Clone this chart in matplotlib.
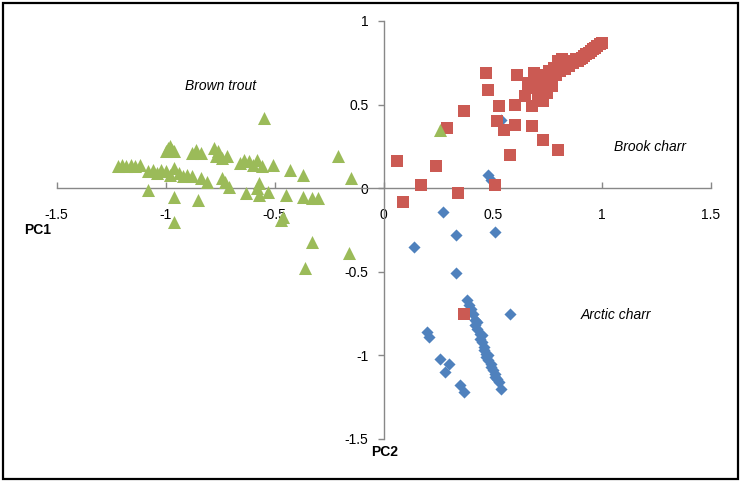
import numpy as np
import matplotlib
matplotlib.use('Agg')
from matplotlib import pyplot as plt
from matplotlib.patches import Rectangle

# Brown trout (green triangles)
brown_x = [-0.55, -1.00, -0.99, -0.98, -0.97, -0.96, -0.88, -0.86, -0.84,
           -0.78, -0.76, -0.77, -0.74, -0.72,
           -1.22, -1.20, -1.18, -1.16, -1.14, -1.12,
           -1.08, -1.06, -1.04, -1.02, -1.00, -0.98, -0.96, -0.94, -0.92, -0.90, -0.88,
           -0.66, -0.64, -0.62, -0.60, -0.58, -0.56,
           -0.51, -0.43, -0.37, -0.21, -0.15,
           -0.84, -0.81, -0.73, -0.71, -0.74, -0.57, -0.58,
           -1.08, -0.96, -0.85,
           -0.63, -0.57, -0.53, -0.45, -0.37, -0.33, -0.30,
           -0.96, -0.47, -0.46, -0.33, -0.16, -0.36, 0.26]
brown_y = [0.42, 0.22, 0.24, 0.25, 0.23, 0.22, 0.21, 0.23, 0.21,
           0.24, 0.22, 0.19, 0.18, 0.19,
           0.13, 0.14, 0.13, 0.14, 0.13, 0.14,
           0.10, 0.11, 0.09, 0.11, 0.10, 0.08, 0.12, 0.09, 0.07, 0.08, 0.07,
           0.15, 0.17, 0.16, 0.14, 0.17, 0.13,
           0.14, 0.11, 0.08, 0.19, 0.06,
           0.06, 0.04, 0.04, 0.01, 0.06, 0.03, 0.00,
           -0.01, -0.05, -0.07,
           -0.03, -0.04, -0.02, -0.04, -0.05, -0.06, -0.06,
           -0.20, -0.19, -0.17, -0.32, -0.39, -0.48, 0.35]

# Brook charr (red squares)
brook_x = [0.47, 0.61, 0.69, 0.48, 0.66, 0.37, 0.53, 0.60, 0.65, 0.68,
           0.73, 0.52, 0.55, 0.60, 0.68, 0.73, 0.80, 0.58, 0.29, 0.06,
           0.24, 0.17, 0.09, 0.34, 0.51, 0.37,
           0.80, 0.82, 0.84, 0.86, 0.88, 0.90, 0.92, 0.94, 0.96, 0.98, 1.00,
           0.99, 0.97, 0.95, 0.93, 0.91, 0.89, 0.87, 0.85, 0.83, 0.81, 0.79,
           0.77, 0.75, 0.73, 0.78, 0.80, 0.82, 0.76, 0.74, 0.72, 0.70, 0.68,
           0.71, 0.74, 0.77, 0.65, 0.66, 0.73, 0.70, 0.75]
brook_y = [0.69, 0.68, 0.69, 0.59, 0.63, 0.46, 0.49, 0.50, 0.55, 0.49,
           0.59, 0.40, 0.35, 0.38, 0.37, 0.29, 0.23, 0.20, 0.36, 0.16,
           0.13, 0.02, -0.08, -0.03, 0.02, -0.75,
           0.76, 0.77, 0.76, 0.76, 0.77, 0.77, 0.79, 0.81, 0.83, 0.85, 0.87,
           0.86, 0.84, 0.82, 0.80, 0.78, 0.76, 0.75, 0.73, 0.71, 0.70, 0.68,
           0.66, 0.64, 0.62, 0.72, 0.73, 0.74, 0.70, 0.68, 0.65, 0.60, 0.62,
           0.55, 0.58, 0.61, 0.55, 0.60, 0.52, 0.65, 0.57]

# Arctic charr (blue diamonds)
arctic_x = [0.48, 0.49, 0.54, 0.27, 0.51, 0.33, 0.14, 0.33, 0.58,
            0.20, 0.21, 0.26, 0.30, 0.28, 0.35, 0.37,
            0.38, 0.39, 0.40, 0.41, 0.42, 0.42, 0.43, 0.44, 0.44, 0.45, 0.46,
            0.46, 0.47, 0.47, 0.48, 0.49, 0.49, 0.50, 0.51, 0.51, 0.52, 0.53,
            0.54, 0.43, 0.45, 0.48]
arctic_y = [0.08, 0.05, 0.41, -0.14, -0.26, -0.28, -0.35, -0.51, -0.75,
            -0.86, -0.89, -1.02, -1.05, -1.10, -1.18, -1.22,
            -0.67, -0.70, -0.72, -0.75, -0.79, -0.82, -0.84, -0.87, -0.90, -0.92, -0.95,
            -0.97, -0.99, -1.01, -1.03, -1.05, -1.07, -1.09, -1.11, -1.13, -1.14, -1.16,
            -1.20, -0.80, -0.88, -1.00]

x_ticks = [-1.5, -1, -0.5, 0, 0.5, 1, 1.5]
y_ticks = [-1.5, -1, -0.5, 0, 0.5, 1]

plt.rcParams['font.family'] = ['Liberation Sans', 'DejaVu Sans']

fig = plt.figure(figsize=(7.42, 4.82), dpi=100)
fig.patches.append(Rectangle((3 / 742, 3 / 482), 735 / 742, 476 / 482,
                             transform=fig.transFigure, fill=False,
                             edgecolor='black', linewidth=1.6))
ax = fig.add_axes([56.7 / 742, 43 / 482, 654 / 742, 418 / 482])

ax.scatter(arctic_x, arctic_y, marker='D', s=38, color='#4F81BD', linewidths=0, zorder=3)
ax.scatter(brook_x, brook_y, marker='s', s=76, color='#CB5A53', linewidths=0, zorder=4)
ax.scatter(brown_x, brown_y, marker='^', s=88, color='#9BBB59', linewidths=0, zorder=5)

ax.set_xlim(-1.5, 1.5)
ax.set_ylim(-1.5, 1)
ax.spines['left'].set_position(('data', 0))
ax.spines['bottom'].set_position(('data', 0))
ax.spines['top'].set_visible(False)
ax.spines['right'].set_visible(False)
for sp in ['left', 'bottom']:
    ax.spines[sp].set_color('#888888')
    ax.spines[sp].set_linewidth(1.0)

ax.set_xticks(x_ticks)
ax.set_xticklabels(['-1.5', '-1', '-0.5', '0', '0.5', '1', '1.5'])
ax.set_yticks(y_ticks)
ax.set_yticklabels(['-1.5', '-1', '-0.5', '0', '0.5', '1'])
ax.tick_params(axis='x', direction='in', length=4, width=1, color='#888888',
               pad=14, labelsize=10)
ax.tick_params(axis='y', direction='out', length=4, width=1, color='#888888',
               pad=7, labelsize=10)

ax.text(-0.75, 0.61, 'Brown trout', style='italic', fontsize=10, ha='center', va='center')
ax.text(1.22, 0.245, 'Brook charr', style='italic', fontsize=10, ha='center', va='center')
ax.text(1.064, -0.76, 'Arctic charr', style='italic', fontsize=10, ha='center', va='center')
ax.text(-1.587, -0.25, 'PC1', fontweight='bold', fontsize=10, ha='center', va='center', clip_on=False)
ax.text(0.005, -1.58, 'PC2', fontweight='bold', fontsize=10, ha='center', va='center', clip_on=False)

fig.savefig('out.png', dpi=100)
